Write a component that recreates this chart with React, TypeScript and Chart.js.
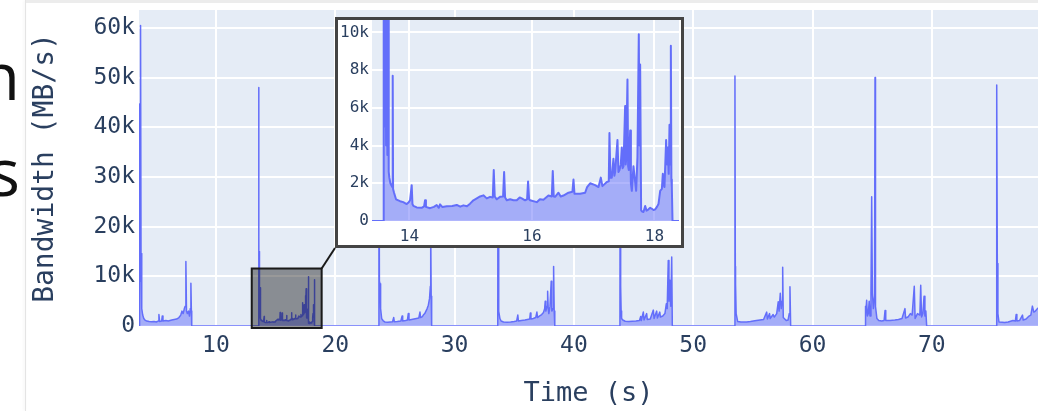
import { useEffect, useRef } from "react";
import { Chart, registerables } from "chart.js";

Chart.register(...registerables);

// ---- Data: bandwidth (MB/s) over time (s), one pair of arrays per burst ----
const epoch1Time = [3.56, 3.6, 3.64, 3.68, 3.72, 3.76, 3.8, 3.86, 3.95, 4.05, 4.2, 4.4, 4.6, 4.8, 5.0, 5.15, 5.22, 5.28, 5.45, 5.5, 5.56, 5.8, 6.0, 6.3, 6.5, 6.7, 6.9, 7.05, 7.15, 7.25, 7.35, 7.42, 7.48, 7.53, 7.6, 7.7, 7.78, 7.85, 7.9, 7.94, 7.97];
const epoch1Bw = [0, 44700, 9000, 60500, 14600, 6000, 3500, 2200, 1500, 1200, 1000, 900, 850, 900, 800, 1000, 2300, 900, 1000, 2000, 1000, 1100, 1000, 1200, 1300, 1400, 1700, 2200, 3000, 2500, 3500, 4000, 13000, 3000, 2500, 3000, 2000, 3500, 8600, 3000, 0];

const epoch2Time = [13.576, 13.581, 13.586, 13.592, 13.598, 13.603, 13.609, 13.614, 13.62, 13.63, 13.641, 13.652, 13.663, 13.673, 13.69, 13.706, 13.722, 13.728, 13.734, 13.75, 13.782, 13.848, 13.9, 13.956, 13.99, 14.011, 14.038, 14.05, 14.065, 14.12, 14.2, 14.24, 14.256, 14.27, 14.337, 14.4, 14.446, 14.48, 14.501, 14.54, 14.61, 14.7, 14.773, 14.83, 14.882, 14.94, 14.99, 15.045, 15.1, 15.154, 15.208, 15.263, 15.317, 15.361, 15.377, 15.393, 15.426, 15.48, 15.529, 15.546, 15.562, 15.589, 15.644, 15.7, 15.752, 15.8, 15.834, 15.888, 15.921, 15.937, 15.954, 15.97, 16.079, 16.13, 16.188, 16.269, 16.324, 16.34, 16.356, 16.378, 16.433, 16.47, 16.514, 16.596, 16.661, 16.678, 16.694, 16.786, 16.868, 16.9, 16.95, 17.031, 17.086, 17.124, 17.15, 17.222, 17.254, 17.265, 17.281, 17.303, 17.33, 17.345, 17.358, 17.396, 17.412, 17.429, 17.45, 17.467, 17.48, 17.494, 17.521, 17.53, 17.537, 17.559, 17.57, 17.581, 17.603, 17.615, 17.63, 17.657, 17.68, 17.701, 17.722, 17.744, 17.755, 17.766, 17.782, 17.8, 17.82, 17.848, 17.87, 17.902, 17.93, 17.957, 17.985, 18.011, 18.04, 18.065, 18.093, 18.12, 18.136, 18.15, 18.163, 18.19, 18.205, 18.218, 18.232, 18.245, 18.258, 18.267, 18.276, 18.283, 18.294];
const epoch2Bw = [0, 48000, 14000, 26000, 9000, 18000, 5000, 12000, 4000, 15000, 3500, 11000, 2600, 2300, 2000, 1900, 1800, 7700, 1700, 1500, 1150, 1050, 1000, 900, 1000, 1100, 1900, 900, 800, 720, 700, 780, 1100, 750, 680, 750, 850, 700, 880, 740, 780, 800, 850, 760, 830, 780, 920, 1100, 1200, 1300, 1360, 1200, 1280, 1250, 2700, 1300, 1150, 1280, 1300, 2600, 1250, 1100, 1150, 1100, 1100, 1250, 1200, 1100, 1150, 2100, 1150, 1100, 1000, 1150, 1130, 1350, 1300, 2650, 1300, 1280, 1500, 1300, 1350, 1500, 1550, 2200, 1450, 1450, 1500, 1800, 2000, 1900, 1800, 2300, 1850, 2070, 2100, 4670, 2300, 2300, 3300, 2400, 2600, 4300, 2600, 2700, 3000, 3900, 2800, 2900, 6100, 3000, 3200, 7500, 2900, 2700, 4800, 2000, 1600, 2900, 2200, 1600, 3400, 9900, 4000, 8300, 570, 500, 480, 800, 550, 620, 700, 650, 580, 620, 750, 900, 1600, 1700, 2500, 1900, 1800, 4300, 3000, 3900, 2500, 5100, 3000, 9300, 2200, 1800, 0];

const epoch3Time = [23.64, 23.66, 23.7, 23.75, 23.8, 23.89, 24.0, 24.17, 24.4, 24.6, 24.8, 24.9, 24.95, 25.2, 25.5, 25.6, 25.65, 25.9, 26.05, 26.12, 26.18, 26.4, 26.6, 26.8, 27.0, 27.1, 27.15, 27.3, 27.38, 27.5, 27.6, 27.7, 27.8, 27.9, 27.97, 28.0, 28.04, 28.08];
const epoch3Bw = [0, 50000, 9000, 8500, 3500, 1500, 1100, 800, 750, 800, 850, 1700, 850, 900, 1000, 2000, 1000, 1100, 1200, 2500, 1200, 1300, 1400, 1500, 1600, 2800, 1700, 1900, 2200, 2500, 3000, 3500, 4200, 5500, 8000, 20000, 6000, 0];

const epoch4Time = [33.62, 33.64, 33.68, 33.72, 33.8, 33.9, 34.1, 34.4, 34.7, 35.0, 35.2, 35.3, 35.35, 35.6, 35.9, 36.1, 36.3, 36.35, 36.4, 36.6, 36.8, 36.9, 36.95, 37.1, 37.3, 37.45, 37.55, 37.6, 37.65, 37.75, 37.8, 37.85, 37.9, 38.0, 38.1, 38.15, 38.25, 38.3, 38.35, 38.4];
const epoch4Bw = [0, 48000, 7000, 3000, 1500, 1000, 800, 750, 800, 900, 1000, 2200, 1000, 1100, 1200, 1300, 1400, 2600, 1400, 1500, 1700, 2800, 1700, 2000, 2300, 2700, 3500, 5000, 3000, 4000, 7000, 3500, 2500, 4000, 9000, 3000, 3500, 12000, 3000, 0];

const epoch5Time = [43.86, 43.88, 43.92, 43.96, 44.0, 44.1, 44.3, 44.6, 44.9, 45.2, 45.5, 45.6, 45.65, 45.82, 45.88, 46.1, 46.15, 46.4, 46.66, 46.72, 46.94, 47.0, 47.2, 47.25, 47.45, 47.63, 47.75, 47.82, 47.91, 47.97, 48.05, 48.12, 48.2, 48.25];
const epoch5Bw = [0, 50000, 8000, 3000, 1500, 1200, 950, 900, 950, 1000, 1100, 1900, 1100, 2800, 1200, 2500, 1300, 1400, 3200, 1500, 3000, 1600, 2800, 1800, 2000, 2500, 4500, 3500, 13200, 5000, 9200, 4000, 13900, 0];

const epoch6Time = [53.48, 53.5, 53.53, 53.55, 53.6, 53.73, 54.0, 54.48, 54.8, 55.04, 55.3, 55.6, 55.9, 56.16, 56.22, 56.4, 56.45, 56.7, 56.8, 57.0, 57.13, 57.2, 57.3, 57.38, 57.45, 57.5, 57.55, 57.8, 57.95, 58.05, 58.11, 58.17];
const epoch6Bw = [0, 50300, 12000, 8500, 2500, 900, 800, 800, 900, 1000, 1100, 1200, 1300, 2800, 1400, 2500, 1500, 2300, 1800, 2500, 4900, 3000, 6600, 3500, 5000, 11800, 1700, 1100, 1200, 2500, 7900, 0];

const epoch7Time = [64.4, 64.42, 64.47, 64.54, 64.6, 64.68, 64.75, 64.82, 64.9, 64.96, 65.02, 65.1, 65.2, 65.24, 65.28, 65.4, 65.55, 65.8, 66.0, 66.08, 66.14, 66.5, 66.9, 67.2, 67.5, 67.75, 67.8, 68.0, 68.2, 68.35, 68.53, 68.6, 68.8, 69.0, 69.07, 69.14, 69.25, 69.35, 69.42, 69.5, 69.57];
const epoch7Bw = [0, 4000, 2000, 5200, 2000, 2500, 5000, 2000, 6600, 26000, 6600, 3500, 6000, 50000, 3900, 1500, 1100, 1000, 1100, 3100, 1100, 1100, 1200, 1300, 1500, 3500, 1600, 1800, 2500, 2200, 8000, 1500, 2500, 2200, 8200, 1800, 2500, 6000, 2000, 3000, 0];

const epoch8Time = [75.42, 75.44, 75.49, 75.54, 75.63, 75.9, 76.1, 76.4, 76.8, 77.0, 77.07, 77.13, 77.35, 77.6, 77.66, 77.9, 78.15, 78.3, 78.43, 78.55, 78.68, 78.85, 79.1];
const epoch8Bw = [0, 48500, 12600, 2500, 800, 750, 700, 800, 1100, 1000, 2300, 1000, 1100, 2200, 1200, 1400, 2000, 2200, 4000, 2800, 3000, 3500, 4000];

// ---- Axes and ticks ----
const mainXRange = [3.55, 78.9];
const mainYRange = [0, 63600];
const mainXTicks = [10, 20, 30, 40, 50, 60, 70];
const mainYTicks = [0, 10000, 20000, 30000, 40000, 50000, 60000];
const insetXRange = [13.39, 18.4];
const insetYRange = [0, 10660];
const insetXTicks = [14, 16, 18];
const insetYTicks = [0, 2000, 4000, 6000, 8000, 10000];
// zoomed window marked on the main chart
const zoomBoxTime = [13.0, 18.86];
const zoomBoxBw = [-400, 11570];

const epochTimes = [epoch1Time, epoch2Time, epoch3Time, epoch4Time, epoch5Time, epoch6Time, epoch7Time, epoch8Time];
const epochBws = [epoch1Bw, epoch2Bw, epoch3Bw, epoch4Bw, epoch5Bw, epoch6Bw, epoch7Bw, epoch8Bw];

const TEXT = "#2a3f5f";
const MONO = "'DejaVu Sans Mono', 'Liberation Mono', monospace";
const PLOT_BG = "#E5ECF6";
const LINE = "#636efa";
const FILL = "rgba(99,110,250,0.5)";

// layout of the inset panel (page pixels)
const INSET_LEFT = 335;
const INSET_TOP = 17;
const INSET_BORDER = 3;
const INSET_W = 343;
const INSET_H = 225;

const kFormat = (v: number | string) => {
  const n = Number(v);
  return n === 0 ? "0" : `${n / 1000}k`;
};

const fixedTicks = (values: number[]) => (scale: any) => {
  scale.ticks = values.map((value) => ({ value }));
};

const plotBackground = {
  id: "plotBackground",
  beforeDraw(chart: any) {
    const { ctx, chartArea } = chart;
    ctx.save();
    ctx.fillStyle = PLOT_BG;
    ctx.fillRect(chartArea.left, chartArea.top, chartArea.right - chartArea.left, chartArea.bottom - chartArea.top);
    ctx.restore();
  },
};

const zoomMarker = {
  id: "zoomMarker",
  afterDatasetsDraw(chart: any) {
    const { ctx, scales } = chart;
    const x1 = scales.x.getPixelForValue(zoomBoxTime[0]);
    const x2 = scales.x.getPixelForValue(zoomBoxTime[1]);
    const y1 = scales.y.getPixelForValue(zoomBoxBw[1]);
    const y2 = scales.y.getPixelForValue(zoomBoxBw[0]);
    ctx.save();
    ctx.fillStyle = "rgba(0,0,0,0.4)";
    ctx.fillRect(x1, y1, x2 - x1, y2 - y1);
    ctx.strokeStyle = "#1a1a1a";
    ctx.lineWidth = 2;
    ctx.strokeRect(x1, y1, x2 - x1, y2 - y1);
    ctx.beginPath();
    ctx.moveTo(x2, y1);
    ctx.lineTo(INSET_LEFT, INSET_TOP + INSET_H + 2 * INSET_BORDER);
    ctx.stroke();
    ctx.restore();
  },
};

function buildPoints() {
  const pts: { x: number; y: number }[] = [];
  epochTimes.forEach((ts, i) => {
    ts.forEach((t, j) => pts.push({ x: t, y: epochBws[i][j] }));
  });
  return pts;
}

function axisFont(size: number) {
  return { family: MONO, size };
}

export default function App() {
  const mainRef = useRef<HTMLCanvasElement>(null);
  const insetRef = useRef<HTMLCanvasElement>(null);

  useEffect(() => {
    const points = buildPoints();
    const dataset = (width: number) => ({
      data: points,
      borderColor: LINE,
      backgroundColor: FILL,
      borderWidth: width,
      borderJoinStyle: "round" as const,
      pointRadius: 0,
      tension: 0,
      fill: "origin",
    });

    const main = new Chart(mainRef.current!, {
      type: "line",
      data: { datasets: [dataset(1.5) as any] },
      options: {
        responsive: false,
        animation: false,
        events: [],
        layout: { padding: { top: 10, left: 0, right: 0, bottom: 0 } },
        plugins: { legend: { display: false }, tooltip: { enabled: false } },
        scales: {
          x: {
            type: "linear",
            min: mainXRange[0],
            max: mainXRange[1],
            afterBuildTicks: fixedTicks(mainXTicks),
            afterFit: (s: any) => {
              s.height = 85;
              s.paddingLeft = 0;
              s.paddingRight = 0;
            },
            ticks: { padding: 6, color: TEXT, font: axisFont(23), maxRotation: 0, autoSkip: false },
            grid: { color: "#ffffff", lineWidth: 2, drawTicks: false },
            border: { display: false },
            title: { display: true, text: "Time (s)", color: TEXT, font: axisFont(27), padding: { top: 0, bottom: 1 } },
          },
          y: {
            type: "linear",
            min: mainYRange[0],
            max: mainYRange[1],
            afterBuildTicks: fixedTicks(mainYTicks),
            afterFit: (s: any) => {
              s.width = 139;
              s.paddingTop = 0;
              s.paddingBottom = 0;
            },
            ticks: { padding: 4, color: TEXT, font: axisFont(23), callback: kFormat, autoSkip: false },
            grid: { color: "#ffffff", lineWidth: 2, drawTicks: false },
            border: { display: false },
            title: { display: true, text: "Bandwidth (MB/s)", color: TEXT, font: axisFont(28), padding: { top: 29, bottom: 0 } },
          },
        },
      },
      plugins: [plotBackground, zoomMarker],
    });

    const inset = new Chart(insetRef.current!, {
      type: "line",
      data: { datasets: [dataset(2) as any] },
      options: {
        responsive: false,
        animation: false,
        events: [],
        layout: { padding: { top: 0, left: 0, right: 2, bottom: 0 } },
        plugins: { legend: { display: false }, tooltip: { enabled: false } },
        scales: {
          x: {
            type: "linear",
            min: insetXRange[0],
            max: insetXRange[1],
            afterBuildTicks: fixedTicks(insetXTicks),
            afterFit: (s: any) => {
              s.height = 24;
              s.paddingLeft = 0;
              s.paddingRight = 0;
            },
            ticks: { padding: 6, color: TEXT, font: axisFont(16), maxRotation: 0, autoSkip: false },
            grid: { color: "#ffffff", lineWidth: 2, drawTicks: false },
            border: { display: false },
          },
          y: {
            type: "linear",
            min: insetYRange[0],
            max: insetYRange[1],
            afterBuildTicks: fixedTicks(insetYTicks),
            afterFit: (s: any) => {
              s.width = 34;
              s.paddingTop = 0;
              s.paddingBottom = 0;
            },
            ticks: { padding: 3, color: TEXT, font: axisFont(16), callback: kFormat, autoSkip: false },
            grid: { color: "#ffffff", lineWidth: 2, drawTicks: false },
            border: { display: false },
          },
        },
      },
      plugins: [plotBackground],
    });

    return () => {
      main.destroy();
      inset.destroy();
    };
  }, []);

  const bigLetter = {
    position: "absolute" as const,
    left: -80,
    width: 100,
    textAlign: "right" as const,
    fontFamily: "'Open Sans', 'Noto Sans', sans-serif",
    fontSize: 66,
    lineHeight: 1,
    color: "#111",
  };

  return (
    <div style={{ position: "fixed", left: 0, top: 0, width: 1038, height: 411, overflow: "hidden", background: "#ffffff" }}>
      <div style={{ ...bigLetter, top: 41 }}>n</div>
      <div style={{ ...bigLetter, top: 137 }}>s</div>
      <div style={{ position: "absolute", left: 25, top: 0, width: 1, height: 411, background: "#e4e4e4", boxShadow: "-1px 0 3px rgba(0,0,0,0.08)" }} />
      <div style={{ position: "absolute", left: 26, top: 0, right: 0, height: 3, background: "#ececec" }} />
      <canvas ref={mainRef} width={1038} height={411} style={{ position: "absolute", left: 0, top: 0 }} />
      <div
        style={{
          position: "absolute",
          left: INSET_LEFT,
          top: INSET_TOP,
          width: INSET_W,
          height: INSET_H,
          border: `${INSET_BORDER}px solid #444`,
          background: "#ffffff",
        }}
      >
        <canvas ref={insetRef} width={INSET_W} height={INSET_H} style={{ display: "block" }} />
      </div>
    </div>
  );
}
